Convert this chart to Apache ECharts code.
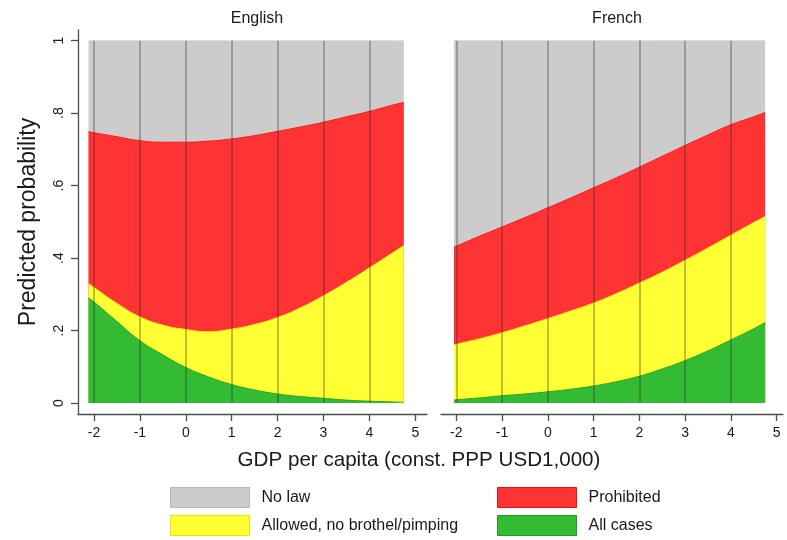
<!DOCTYPE html>
<html>
<head>
<meta charset="utf-8">
<script src="https://cdn.jsdelivr.net/npm/echarts@6/dist/echarts.min.js"></script>
<style>
  html, body { margin: 0; padding: 0; background: #ffffff; }
  #chart { width: 787px; height: 540px; }
</style>
</head>
<body>
<div id="chart"></div>
<script>
// Predicted probability of each legal regime by GDP per capita, for English and French legal origin.
const categories = ['No law', 'Prohibited', 'Allowed, no brothel/pimping', 'All cases'];
const panels = ['English', 'French'];

const xEnglish = [-2.12, -2, -1.5, -1, -0.5, 0, 0.5, 1, 1.5, 2, 2.5, 3, 3.5, 4, 4.5, 4.75];
const englishAllCases = [0.290, 0.279, 0.225, 0.172, 0.133, 0.098, 0.072, 0.051, 0.036, 0.025, 0.018, 0.013, 0.008, 0.005, 0.003, 0.002];
const englishAllowed = [0.040, 0.040, 0.050, 0.066, 0.082, 0.105, 0.125, 0.153, 0.181, 0.211, 0.245, 0.283, 0.325, 0.368, 0.411, 0.433];
const englishProhibited = [0.419, 0.427, 0.460, 0.486, 0.505, 0.517, 0.526, 0.525, 0.521, 0.514, 0.499, 0.479, 0.457, 0.432, 0.408, 0.395];
const englishNoLaw = [0.251, 0.254, 0.265, 0.276, 0.280, 0.280, 0.277, 0.271, 0.262, 0.250, 0.238, 0.225, 0.210, 0.195, 0.178, 0.170];

const xFrench = [-2.05, -2, -1.5, -1, -0.5, 0, 0.5, 1, 1.5, 2, 2.5, 3, 3.5, 4, 4.5, 4.75];
const frenchAllCases = [0.008, 0.009, 0.014, 0.020, 0.025, 0.031, 0.038, 0.047, 0.059, 0.074, 0.094, 0.117, 0.144, 0.174, 0.205, 0.222];
const frenchAllowed = [0.152, 0.153, 0.163, 0.174, 0.188, 0.202, 0.216, 0.229, 0.243, 0.257, 0.267, 0.277, 0.284, 0.289, 0.293, 0.293];
const frenchProhibited = [0.271, 0.271, 0.283, 0.292, 0.299, 0.306, 0.312, 0.318, 0.320, 0.320, 0.320, 0.317, 0.312, 0.305, 0.292, 0.287];
const frenchNoLaw = [0.569, 0.567, 0.540, 0.514, 0.488, 0.461, 0.434, 0.406, 0.378, 0.349, 0.319, 0.289, 0.260, 0.232, 0.210, 0.198];

const xTickValues = [-2, -1, 0, 1, 2, 3, 4, 5];
const xTickLabels = ['-2', '-1', '0', '1', '2', '3', '4', '5'];
const gridLineValues = [-2, -1, 0, 1, 2, 3, 4];
const yTickValues = [0, 0.2, 0.4, 0.6, 0.8, 1];
const yTickLabels = ['0', '.2', '.4', '.6', '.8', '1'];

const FONT = 'Liberation Sans, Arial, Helvetica, sans-serif';
const fills = {
  'No law': '#cccccc',
  'Prohibited': '#ff3333',
  'Allowed, no brothel/pimping': '#ffff33',
  'All cases': '#33bb33'
};
const edges = {
  'No law': '#d6d6d6',
  'Prohibited': '#ff1a1a',
  'Allowed, no brothel/pimping': '#f0f01a',
  'All cases': '#22aa22'
};
const swatchBorders = {
  'No law': '#b8b8b8',
  'Prohibited': '#ee1111',
  'Allowed, no brothel/pimping': '#e6e600',
  'All cases': '#229922'
};

// Upper boundary of a band = running total of the category probabilities beneath it.
function cumulative(xs, parts) {
  return xs.map((x, i) => [x, parts.reduce((s, arr) => s + arr[i], 0)]);
}

// Each band is filled from its upper boundary down to 0; later bands paint over earlier ones.
function bandSeries(name, data, axisIndex) {
  return {
    name: name,
    type: 'line',
    xAxisIndex: axisIndex,
    yAxisIndex: axisIndex,
    smooth: true,
    showSymbol: false,
    silent: true,
    z: 2,
    data: data,
    lineStyle: { color: edges[name], width: 1 },
    itemStyle: { color: fills[name] },
    areaStyle: { color: fills[name], opacity: 1, origin: 'auto' }
  };
}

function gridLines(axisIndex) {
  return {
    type: 'line',
    xAxisIndex: axisIndex,
    yAxisIndex: axisIndex,
    data: [],
    silent: true,
    z: 5,
    markLine: {
      silent: true,
      symbol: ['none', 'none'],
      label: { show: false },
      lineStyle: { color: 'rgba(40,40,40,0.38)', width: 1.6, type: 'solid' },
      emphasis: { disabled: true },
      data: gridLineValues.map(v => [{ coord: [v, 0] }, { coord: [v, 1] }])
    }
  };
}

const panelData = [
  { x: xEnglish, allCases: englishAllCases, allowed: englishAllowed, prohibited: englishProhibited, noLaw: englishNoLaw },
  { x: xFrench, allCases: frenchAllCases, allowed: frenchAllowed, prohibited: frenchProhibited, noLaw: frenchNoLaw }
];

const series = [];
panelData.forEach((p, i) => {
  series.push(bandSeries('No law', cumulative(p.x, [p.allCases, p.allowed, p.prohibited, p.noLaw]), i));
  series.push(bandSeries('Prohibited', cumulative(p.x, [p.allCases, p.allowed, p.prohibited]), i));
  series.push(bandSeries('Allowed, no brothel/pimping', cumulative(p.x, [p.allCases, p.allowed]), i));
  series.push(bandSeries('All cases', cumulative(p.x, [p.allCases]), i));
  series.push(gridLines(i));
});

const axisColor = '#4d4d4d';
const textColor = '#1a1a1a';

function xAxis(gridIndex, min, max) {
  return {
    type: 'value',
    gridIndex: gridIndex,
    min: min,
    max: max,
    axisLine: { show: true, onZero: false, lineStyle: { color: axisColor, width: 1.3 } },
    axisTick: { show: true, length: 7, customValues: xTickValues, lineStyle: { color: axisColor, width: 1.3 } },
    axisLabel: {
      show: true,
      customValues: xTickValues,
      margin: 12,
      fontSize: 14,
      fontFamily: FONT,
      color: textColor,
      formatter: v => xTickLabels[xTickValues.indexOf(Math.round(v))]
    },
    splitLine: { show: false }
  };
}

function legendItem(name, left, top) {
  return {
    left: left,
    top: top,
    padding: 0,
    itemWidth: 79,
    itemHeight: 20,
    icon: 'rect',
    selectedMode: false,
    textStyle: { fontSize: 16, color: textColor, fontFamily: FONT, padding: [0, 0, 0, 7] },
    data: [{ name: name, itemStyle: { color: fills[name], borderColor: swatchBorders[name], borderWidth: 1 } }]
  };
}

const option = {
  backgroundColor: '#ffffff',
  animation: false,
  textStyle: { fontFamily: FONT },
  title: [
    { text: panels[0], left: 252, top: 6, textAlign: 'center', textStyle: { fontSize: 16, fontWeight: 'normal', color: textColor, fontFamily: FONT } },
    { text: panels[1], left: 612, top: 6, textAlign: 'center', textStyle: { fontSize: 16, fontWeight: 'normal', color: textColor, fontFamily: FONT } },
    { text: 'GDP per capita (const. PPP USD1,000)', left: 414, top: 445, textAlign: 'center', textStyle: { fontSize: 20.6, fontWeight: 'normal', color: textColor, fontFamily: FONT } }
  ],
  legend: [
    legendItem('No law', 170, 487),
    legendItem('Allowed, no brothel/pimping', 170, 515),
    legendItem('Prohibited', 497, 487),
    legendItem('All cases', 497, 515)
  ],
  grid: [
    { left: 78, top: 30, width: 349, height: 384 },
    { left: 441, top: 30, width: 342, height: 384 }
  ],
  xAxis: [
    xAxis(0, -2.349, 5.255),
    xAxis(1, -2.334, 5.14)
  ],
  yAxis: [
    {
      type: 'value',
      gridIndex: 0,
      min: -0.0303,
      max: 1.0295,
      name: 'Predicted probability',
      nameLocation: 'middle',
      nameRotate: 90,
      nameGap: 38,
      nameTextStyle: { fontSize: 23, color: textColor, fontFamily: FONT },
      axisLine: { show: true, onZero: false, lineStyle: { color: axisColor, width: 1.3 } },
      axisTick: { show: true, length: 7, customValues: yTickValues, lineStyle: { color: axisColor, width: 1.3 } },
      axisLabel: {
        show: true,
        rotate: 90,
        margin: 12,
        fontSize: 14,
        fontFamily: FONT,
        color: textColor,
        customValues: yTickValues,
        formatter: v => yTickLabels[yTickValues.findIndex(t => Math.abs(t - v) < 1e-6)]
      },
      splitLine: { show: false }
    },
    {
      type: 'value',
      gridIndex: 1,
      min: -0.0303,
      max: 1.0295,
      axisLine: { show: false },
      axisTick: { show: false },
      axisLabel: { show: false },
      splitLine: { show: false }
    }
  ],
  series: series
};

const chart = echarts.init(document.getElementById('chart'), null, { renderer: 'canvas' });
chart.setOption(option);
</script>
</body>
</html>
